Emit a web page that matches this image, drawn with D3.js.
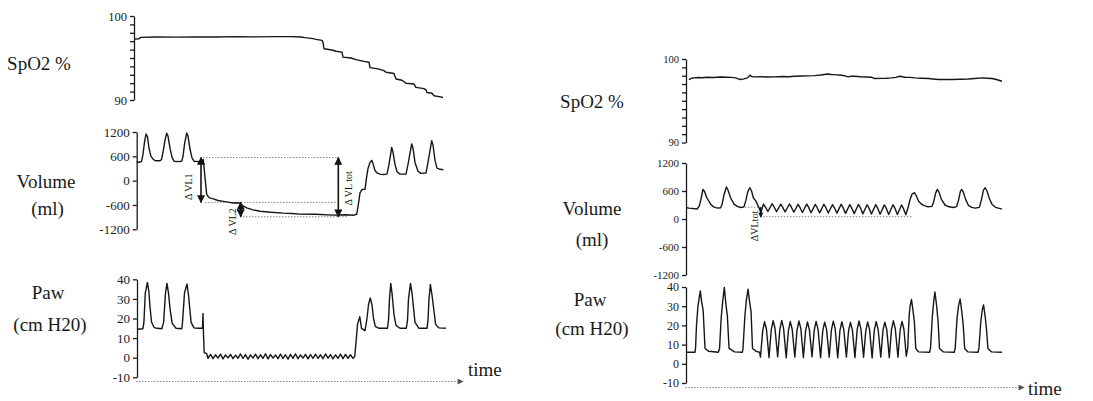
<!DOCTYPE html>
<html lang="en">
<head>
<meta charset="UTF-8" />
<title>SpO2, lung volume and airway pressure during suctioning</title>
<script src="https://d3js.org/d3.v7.min.js"></script>
<style>
  body { margin: 0; background: #fff; }
  svg { display: block; font-family: "Liberation Serif", "Times New Roman", serif; }
  .trace { fill: none; stroke: #161616; stroke-width: 1.4; stroke-linejoin: round; }
  .axis path, .axis line { stroke: #1a1a1a; stroke-width: 1.3; }
  .axis text { fill: #222; }
  .guide { stroke: #8a8a8a; stroke-width: 1; stroke-dasharray: 1.5 1.5; }
  .delta { stroke: #111; stroke-width: 1.6; }
  .label { font-size: 19px; fill: #1a1a1a; }
  .dlabel { font-size: 10px; fill: #111; }
</style>
</head>
<body>
<svg id="chart" width="1093" height="401"></svg>
<script>
// time is in arbitrary sample units (no scale on the time axis)

// ---- left recording ----
const leftSpo2 = [
  [-1, 97.25], [3, 97.3], [5, 97.45], [20, 97.5], [40, 97.48], [60, 97.52], [80, 97.5],
  [100, 97.55], [120, 97.52], [140, 97.55], [155, 97.55], [165, 97.5], [169, 97.42],
  [177, 97.3], [180, 97.22], [186, 97.1], [187, 96.85], [188, 96.1], [196, 95.95],
  [200, 95.8], [206, 95.7], [207, 95.1], [215, 95.0], [220, 94.8], [228, 94.6],
  [233, 94.5], [234, 93.85], [242, 93.7], [248, 93.5], [250, 93.3], [258, 93.15],
  [260, 92.5], [266, 92.35], [270, 92.0], [278, 91.9], [280, 91.5], [288, 91.35],
  [290, 91.2], [291, 90.9], [296, 90.8], [298, 90.5], [303, 90.4], [307, 90.3]
];

const leftVolume = [
  [0.7, 460], [3, 455], [5.5, 470], [7, 650], [8.5, 950], [10, 1150], [11.5, 1080], [13, 800],
  [15, 600], [17.5, 520], [20, 490], [24, 490],
  [25.5, 520], [27, 700], [29, 1000], [30.7, 1170], [32, 1100], [34, 800], [36, 580], [38, 480],
  [42, 470], [45.7, 480],
  [47, 600], [48.5, 900], [50.7, 1175], [52, 1100], [54, 780], [56, 560], [58, 480], [62, 470],
  [65.7, 490], [67.3, 520],
  [68.5, 200], [70.7, -340], [73, -420], [77.3, -450], [82, -490], [87.3, -510], [92, -530],
  [97.3, -550], [101, -545], [104, -560],
  [107, -620], [110.7, -670], [117, -720], [124, -755], [135, -780], [147, -800], [156, -810],
  [164, -825], [180, -830], [197, -850], [210, -840], [217, -855],
  [220.7, -830], [222.3, -600], [224, -300], [226, -220], [229, -215], [230.7, 100], [232, 300],
  [234, 450], [235.7, 500], [237, 420], [239, 250], [241, 190], [244, 160], [247, 150],
  [251, 160], [253, 400], [255.7, 820], [257, 700], [259, 400], [261, 220], [264, 160], [270, 160],
  [272, 400], [275.7, 905], [277, 800], [279, 450], [282, 230], [285, 180], [290, 190],
  [292, 450], [295.7, 985], [297, 880], [299, 500], [301, 310], [304, 280], [307.3, 270]
];

const leftPaw = [
  [1.7, 14.5], [6.9, 14.8], [7.9, 18], [9.3, 33], [11.4, 38.4], [12.8, 34], [14, 26], [15.5, 18.2],
  [18, 15.5], [20.7, 15], [25.8, 14.8], [27.6, 18], [29.5, 33], [31, 37.9], [32.5, 33], [34, 25],
  [36.2, 17.5], [40, 15], [45.8, 14.8], [46.5, 18], [48.5, 33], [51, 37.6], [52.5, 32], [55.1, 18],
  [58, 15.2], [62, 15], [66.5, 15], [67, 22.6], [67.5, 12], [68.2, 2.5], [70.6, 2.2],
  [72, -0.3], [74.5, 1.7], [77, -0.5], [79.5, 1.5], [82, -0.2], [84.5, 1.8], [87, -0.6], [89.5, 1.4],
  [92, -0.1], [94.5, 1.7], [97, -0.5], [99.5, 1.3], [102, -0.3], [104.5, 1.9], [107, -0.4],
  [109.5, 1.6], [112, -0.7], [114.5, 1.4], [117, -0.2], [119.5, 1.8], [122, -0.5], [124.5, 1.5],
  [127, -0.3], [129.5, 2.0], [132, -0.6], [134.5, 1.6], [137, -0.2], [139.5, 1.4], [142, -0.5],
  [144.5, 1.8], [147, -0.4], [149.5, 1.5], [152, -0.7], [154.5, 1.7], [157, -0.3], [159.5, 1.9],
  [162, -0.5], [164.5, 1.4], [167, -0.2], [169.5, 1.7], [172, -0.6], [174.5, 1.6], [177, -0.3],
  [179.5, 1.8], [182, -0.4], [184.5, 1.5], [187, -0.5], [189.5, 1.9], [192, -0.2], [194.5, 1.6],
  [197, -0.6], [199.5, 1.4], [202, -0.3], [204.5, 1.8], [207, -0.5], [209.5, 1.7], [212, -0.4],
  [214.5, 1.5], [217, -0.3], [218.7, 0.5],
  [220.4, 10], [221.5, 17], [223.8, 20.9], [225.5, 15], [229, 13.8], [231, 20], [232.5, 27],
  [234.2, 30.5], [236, 27], [237.5, 20], [239.3, 16], [243, 15], [246.2, 15], [251.4, 15],
  [252.5, 19], [253.5, 30], [254.8, 37.9], [256, 33], [258, 22], [260, 16.5], [264, 15], [270.3, 15],
  [271.5, 19], [272.5, 30], [274.5, 37.9], [276, 33], [279, 18], [283, 15], [291, 15],
  [292, 19], [293, 30], [294.4, 37.4], [296, 32], [299.6, 17], [303, 15.2], [309.9, 15]
];

// [value, from t, to t]
const leftGuides = [[570, 67, 201], [-536, 69, 201], [-890, 104, 211]];
// arrows: t, from value, to value, label, label t, label value
const leftDeltas = [
  { t: 65, from: 570, to: -536, heads: 2, label: "Δ VL1", lt: 54, lv: -150 },
  { t: 104.7, from: -536, to: -890, heads: 2, label: "Δ VL2", lt: 98, lv: -1008 },
  { t: 202.3, from: 570, to: -890, heads: 2, label: "Δ VL tot", lt: 213.5, lv: -190 }
];

// ---- right recording ----
const rightSpo2 = [
  [2, 97.54], [5, 97.7], [7.3, 97.74], [12, 97.78], [16, 97.75], [21.4, 97.82], [28, 97.79],
  [35, 97.84], [42.5, 97.82], [47, 97.8], [51.3, 97.74], [54, 97.62], [56.6, 97.54], [60, 97.62],
  [63.7, 97.74], [66.5, 98.06], [68, 97.9], [70.7, 97.86], [78, 97.88], [85, 97.84], [91.9, 97.86],
  [100, 97.9], [107, 97.88], [113.1, 97.93], [120, 97.96], [127, 97.98], [134.2, 98.01],
  [141, 98.08], [148.4, 98.21], [152, 98.15], [155.4, 98.13], [162.5, 98.06], [166, 98.0],
  [169.5, 97.86], [173, 97.95], [176.6, 97.93], [183, 97.88], [189, 97.85], [194.2, 97.82],
  [197.7, 97.66], [204, 97.68], [210, 97.7], [215.4, 97.74], [220, 97.8], [224.2, 97.93],
  [229.5, 97.82], [235, 97.8], [240.1, 97.74], [247, 97.7], [254.2, 97.66], [259, 97.6],
  [264.8, 97.54], [272, 97.55], [278.9, 97.54], [288, 97.58], [296.5, 97.6], [303, 97.66],
  [310.6, 97.74], [316, 97.7], [321.2, 97.66], [326, 97.55], [331.8, 97.34]
];

const rightVolume = [
  [0, 240], [2, 233], [10.8, 215], [13, 280], [15, 450], [16.8, 635], [18.5, 590], [21, 450],
  [24.9, 318], [28, 260], [32, 233], [35.5, 240], [37, 320], [39, 520], [41.5, 685], [43, 630],
  [46, 450], [49.6, 318], [53, 270], [56.6, 247], [60, 260], [62, 400], [64, 580], [66.2, 670],
  [68, 600], [70, 450], [72.5, 388], [76, 233], [77.8, 141],
  [80.6, 320], [82.5, 260], [85.2, 160], [89.7, 325], [91.6, 265], [94.3, 155], [98.8, 318],
  [100.7, 255], [103.4, 150], [107.9, 322], [109.8, 258], [112.5, 145], [117, 315], [118.9, 250],
  [121.6, 140], [126.1, 318], [128, 255], [130.7, 135], [135.1, 312], [137, 248], [139.7, 132],
  [144.2, 316], [146.1, 250], [148.8, 128], [153.3, 310], [155.2, 245], [157.9, 125], [162.4, 314],
  [164.3, 248], [167, 120], [171.5, 308], [173.4, 240], [176.1, 115], [180.6, 312], [182.5, 245],
  [185.2, 110], [189.7, 305], [191.6, 238], [194.3, 106], [198.8, 308], [200.7, 240], [203.4, 102],
  [207.9, 302], [209.8, 235], [212.5, 98], [217, 305], [218.9, 238], [221.6, 95], [226, 300],
  [227.9, 230], [230.5, 92],
  [233, 250], [235, 420], [237, 530], [239.5, 565], [241.5, 500], [244, 380], [247, 318], [250, 285],
  [254, 261], [258, 270], [260, 380], [262, 560], [263.7, 635], [265.5, 570], [268, 420],
  [271.8, 300], [276, 262], [280.6, 247], [284, 265], [286, 400], [288, 590], [289.4, 635],
  [291, 580], [293.5, 420], [296.5, 290], [300, 250], [303.6, 233], [308, 250], [310, 400],
  [312.3, 620], [314.1, 670], [316, 600], [318.5, 440], [321.2, 318], [325, 250], [331.8, 212]
];

const rightPaw = [
  [0, 6], [8.3, 6], [9, 8], [10, 20], [11.5, 30], [12.5, 33], [14, 38], [15.5, 32], [17, 28],
  [18, 18], [19, 8], [23, 6.5], [33, 6], [34.3, 8], [36, 24], [37.5, 32], [39.3, 39.8], [41, 31],
  [42.5, 25], [44.3, 8], [50, 6.2], [58.3, 6], [59, 8], [61, 25], [62.5, 33], [64.3, 38.9], [66, 32],
  [67.5, 27], [69, 8], [73, 6.5], [76.5, 6],
  [77.4, 3.5], [79.7, 17], [81.7, 21.9], [83.7, 18],
  [86.4, 3.2], [88.7, 17.5], [90.7, 22.4], [92.7, 18.5],
  [95.5, 3.6], [97.8, 17.8], [99.8, 22.6], [101.8, 18.2],
  [104.5, 3.1], [106.8, 17.2], [108.8, 22], [110.8, 18],
  [113.6, 3.5], [115.9, 17.5], [117.9, 22.3], [119.9, 18.4],
  [122.6, 3.3], [124.9, 17], [126.9, 21.8], [128.9, 17.8],
  [131.7, 3.6], [134, 17.4], [136, 22.1], [138, 18.1],
  [140.7, 3.2], [143, 17.1], [145, 21.7], [147, 17.9],
  [149.8, 3.4], [152.1, 17.5], [154.1, 22.2], [156.1, 18.3],
  [158.8, 3.1], [161.1, 17.3], [163.1, 21.9], [165.1, 18],
  [167.9, 3.5], [170.2, 17.2], [172.2, 21.6], [174.2, 17.7],
  [176.9, 3.2], [179.2, 17.6], [181.2, 22.3], [183.2, 18.2],
  [186, 3.4], [188.3, 17], [190.3, 21.8], [192.3, 17.8],
  [195, 3.0], [197.3, 17.4], [199.3, 22], [201.3, 18.1],
  [204.1, 3.5], [206.4, 17.3], [208.4, 21.7], [210.4, 17.9],
  [213.1, 3.2], [215.4, 17.8], [217.4, 22.4], [219.4, 18.3],
  [222.2, 3.4], [224.5, 17.5], [226.5, 22.1], [228.5, 18],
  [231, 4], [232.5, 8], [234, 25], [235, 30], [236.5, 33.5], [238, 28], [239.5, 22], [241, 8],
  [244, 6.2], [255.5, 6], [256.5, 8], [258.5, 25], [260, 33], [261.2, 37.4], [263, 30], [264.5, 22],
  [266, 8], [270, 6.2], [281.5, 6], [282.5, 8], [284.5, 24], [286, 30], [287.7, 33.8], [289.5, 27],
  [291, 20], [292.5, 8], [296, 6.2], [306.5, 6], [307.5, 8], [309.5, 22], [311, 28], [312.4, 30.7],
  [314, 25], [315.5, 18], [317, 8], [321, 6.2], [331.8, 6]
];

const rightGuides = [[253, 58, 77.7], [50, 80, 236.5]];
const rightDeltas = [
  { t: 77.7, from: 253, to: 40, heads: 1, label: "ΔVLtot", lt: 72, lv: -150 }
];

const spo2Ticks = [90, 91, 92, 93, 94, 95, 96, 97, 98, 99, 100];
const spo2Labels = [90, 100];
const volumeTicks = [-1200, -600, 0, 600, 1200];
const pawTicks = [-10, 0, 10, 20, 30, 40];

// ---- drawing ----
const svg = d3.select("#chart");

const xLeft = d3.scaleLinear().domain([0, 341]).range([136, 477]);
const xRight = d3.scaleLinear().domain([0, 355]).range([687, 1024]);

const ySpo2L = d3.scaleLinear().domain([90, 100]).range([100, 16]);
const yVolL = d3.scaleLinear().domain([-1200, 1200]).range([229.3, 132]);
const yPawL = d3.scaleLinear().domain([-10, 40]).range([377.3, 279.3]);
const ySpo2R = d3.scaleLinear().domain([90, 100]).range([142.5, 59]);
const yVolR = d3.scaleLinear().domain([-1200, 1200]).range([275, 163]);
const yPawR = d3.scaleLinear().domain([-10, 40]).range([383, 287]);

const defs = svg.append("defs");
function marker(id, w, h, fill) {
  defs.append("marker")
    .attr("id", id)
    .attr("viewBox", "0 0 10 10")
    .attr("refX", 9).attr("refY", 5)
    .attr("markerUnits", "userSpaceOnUse")
    .attr("markerWidth", w).attr("markerHeight", h)
    .attr("orient", "auto-start-reverse")
    .append("path").attr("d", "M0,0L10,5L0,10z").attr("fill", fill);
}
marker("head", 9, 8, "#111");
marker("headSmall", 6, 5, "#111");
marker("timeHead", 7, 6, "#555");

function yAxis(at, y, ticks, shown, size) {
  svg.append("g")
    .attr("class", "axis")
    .attr("transform", `translate(${at},0)`)
    .call(d3.axisLeft(y).tickValues(ticks).tickSize(4).tickSizeOuter(0).tickPadding(3)
      .tickFormat(d => shown.includes(d) ? d : ""))
    .attr("font-family", "Liberation Serif, serif")
    .attr("font-size", size);
}

function trace(x, y, data) {
  svg.append("path")
    .datum(data)
    .attr("class", "trace")
    .attr("d", d3.line().x(d => x(d[0])).y(d => y(d[1])));
}

function guides(x, y, list) {
  svg.append("g").selectAll("line").data(list).join("line")
    .attr("class", "guide")
    .attr("x1", d => x(d[1])).attr("x2", d => x(d[2]))
    .attr("y1", d => y(d[0])).attr("y2", d => y(d[0]));
}

function deltas(x, y, list, small) {
  list.forEach(d => {
    const line = svg.append("line")
      .attr("class", "delta")
      .attr("x1", x(d.t)).attr("x2", x(d.t))
      .attr("y1", y(d.from)).attr("y2", y(d.to))
      .attr("marker-end", `url(#${small ? "headSmall" : "head"})`);
    if (d.heads === 2) line.attr("marker-start", `url(#${small ? "headSmall" : "head"})`);
    svg.append("text")
      .attr("class", "dlabel")
      .attr("font-size", small ? 8 : 10)
      .attr("text-anchor", "middle")
      .attr("dominant-baseline", "middle")
      .attr("transform", `translate(${x(d.lt)},${y(d.lv)}) rotate(-90)`)
      .text(d.label);
  });
}

function timeAxis(x0, x1, y, tx, ty) {
  svg.append("line")
    .attr("class", "guide")
    .attr("x1", x0).attr("x2", x1).attr("y1", y).attr("y2", y)
    .attr("marker-end", "url(#timeHead)");
  svg.append("text").attr("class", "label").attr("x", tx).attr("y", ty).text("time");
}

function label(text, x, y) {
  svg.append("text").attr("class", "label")
    .attr("x", x).attr("y", y).attr("text-anchor", "middle").text(text);
}

// left recording
yAxis(134, ySpo2L, spo2Ticks, spo2Labels, 12.5);
yAxis(136.7, yVolL, volumeTicks, volumeTicks, 13);
yAxis(137, yPawL, pawTicks, pawTicks, 13);
guides(xLeft, yVolL, leftGuides);
trace(xLeft, ySpo2L, leftSpo2);
trace(xLeft, yVolL, leftVolume);
trace(xLeft, yPawL, leftPaw);
deltas(xLeft, yVolL, leftDeltas, false);
timeAxis(xLeft(0), xLeft(327), 381.5, 468, 376);
label("SpO2 %", 39, 70);
label("Volume", 46, 188);
label("(ml)", 47.5, 215);
label("Paw", 48, 299);
label("(cm H20)", 50, 331);

// right recording
yAxis(686, ySpo2R, spo2Ticks, spo2Labels, 10.5);
yAxis(686, yVolR, volumeTicks, volumeTicks, 11);
yAxis(686, yPawR, pawTicks, pawTicks, 12);
guides(xRight, yVolR, rightGuides);
trace(xRight, ySpo2R, rightSpo2);
trace(xRight, yVolR, rightVolume);
trace(xRight, yPawR, rightPaw);
deltas(xRight, yVolR, rightDeltas, true);
timeAxis(xRight(-2), xRight(355), 387.5, 1028, 395);
label("SpO2 %", 592, 108);
label("Volume", 592, 215);
label("(ml)", 592, 246);
label("Paw", 590, 306);
label("(cm H20)", 592, 335);
</script>
</body>
</html>
